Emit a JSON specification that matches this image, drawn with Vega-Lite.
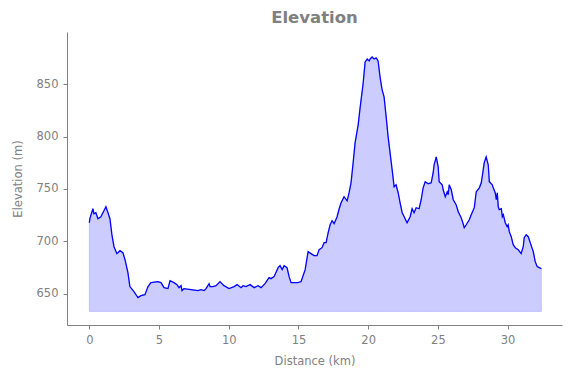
{
  "$schema": "https://vega.github.io/schema/vega-lite/v6.json",
  "autosize": "none",
  "width": 495,
  "height": 293,
  "padding": {"left": 67, "top": 32, "right": 9, "bottom": 53},
  "background": "white",
  "title": {"text": "Elevation", "fontSize": 16.5, "fontWeight": "bold", "color": "#808080", "font": "DejaVu Sans", "offset": 6, "anchor": "middle"},
  "config": {
    "view": {"stroke": null},
    "axis": {"grid": false, "domainColor": "#808080", "tickColor": "#808080", "labelColor": "#808080", "titleColor": "#808080", "labelFont": "DejaVu Sans", "titleFont": "DejaVu Sans", "labelFontSize": 11.5, "titleFontSize": 11.5, "titleFontWeight": "normal", "tickSize": 4, "labelPadding": 5}
  },
  "data": {"values": [
    {"km": 0.00, "ele": 717.7}, {"km": 0.04, "ele": 721.6}, {"km": 0.26, "ele": 731.1}, {"km": 0.33, "ele": 726.3},
    {"km": 0.47, "ele": 727.3}, {"km": 0.62, "ele": 721.6}, {"km": 0.83, "ele": 723.5}, {"km": 1.05, "ele": 729.2},
    {"km": 1.19, "ele": 733.0}, {"km": 1.34, "ele": 727.3}, {"km": 1.48, "ele": 721.6}, {"km": 1.62, "ele": 706.3},
    {"km": 1.77, "ele": 694.8}, {"km": 1.98, "ele": 688.2}, {"km": 2.20, "ele": 691.0}, {"km": 2.41, "ele": 689.1},
    {"km": 2.56, "ele": 682.4}, {"km": 2.77, "ele": 670.0}, {"km": 2.91, "ele": 656.7}, {"km": 3.20, "ele": 651.9},
    {"km": 3.49, "ele": 646.2}, {"km": 3.70, "ele": 648.1}, {"km": 3.99, "ele": 649.0}, {"km": 4.21, "ele": 656.7},
    {"km": 4.42, "ele": 660.5}, {"km": 4.92, "ele": 661.5}, {"km": 5.14, "ele": 660.5}, {"km": 5.36, "ele": 655.7},
    {"km": 5.64, "ele": 654.8}, {"km": 5.79, "ele": 662.4}, {"km": 6.07, "ele": 660.5}, {"km": 6.29, "ele": 658.6},
    {"km": 6.43, "ele": 655.7}, {"km": 6.58, "ele": 657.6}, {"km": 6.65, "ele": 652.9}, {"km": 6.79, "ele": 654.8},
    {"km": 7.29, "ele": 653.8}, {"km": 7.79, "ele": 652.9}, {"km": 8.01, "ele": 653.8}, {"km": 8.23, "ele": 652.9},
    {"km": 8.37, "ele": 654.8}, {"km": 8.59, "ele": 659.5}, {"km": 8.66, "ele": 656.7}, {"km": 8.87, "ele": 656.7},
    {"km": 9.09, "ele": 657.6}, {"km": 9.37, "ele": 661.5}, {"km": 9.66, "ele": 657.6}, {"km": 10.02, "ele": 654.8},
    {"km": 10.38, "ele": 656.7}, {"km": 10.60, "ele": 658.6}, {"km": 10.88, "ele": 655.7}, {"km": 11.03, "ele": 657.6},
    {"km": 11.24, "ele": 656.7}, {"km": 11.53, "ele": 658.6}, {"km": 11.82, "ele": 655.7}, {"km": 12.10, "ele": 657.6},
    {"km": 12.32, "ele": 655.7}, {"km": 12.60, "ele": 659.5}, {"km": 12.89, "ele": 665.3}, {"km": 13.03, "ele": 664.3},
    {"km": 13.25, "ele": 666.2}, {"km": 13.54, "ele": 674.8}, {"km": 13.68, "ele": 676.7}, {"km": 13.83, "ele": 672.9},
    {"km": 13.97, "ele": 676.7}, {"km": 14.18, "ele": 674.8}, {"km": 14.33, "ele": 666.2}, {"km": 14.47, "ele": 660.5},
    {"km": 14.97, "ele": 660.5}, {"km": 15.19, "ele": 661.5}, {"km": 15.48, "ele": 672.9}, {"km": 15.69, "ele": 690.1},
    {"km": 15.90, "ele": 688.2}, {"km": 16.12, "ele": 686.3}, {"km": 16.33, "ele": 686.3}, {"km": 16.48, "ele": 692.0},
    {"km": 16.69, "ele": 693.9}, {"km": 16.84, "ele": 698.7}, {"km": 16.98, "ele": 698.7}, {"km": 17.13, "ele": 708.2},
    {"km": 17.27, "ele": 715.8}, {"km": 17.41, "ele": 719.7}, {"km": 17.56, "ele": 716.8}, {"km": 17.77, "ele": 723.5},
    {"km": 17.92, "ele": 731.1}, {"km": 18.06, "ele": 736.8}, {"km": 18.27, "ele": 742.6}, {"km": 18.49, "ele": 738.7},
    {"km": 18.63, "ele": 746.4}, {"km": 18.77, "ele": 755.9}, {"km": 18.92, "ele": 775.0}, {"km": 19.06, "ele": 794.1},
    {"km": 19.28, "ele": 811.3}, {"km": 19.42, "ele": 827.5}, {"km": 19.64, "ele": 851.3}, {"km": 19.78, "ele": 871.4},
    {"km": 19.93, "ele": 874.2}, {"km": 20.07, "ele": 872.3}, {"km": 20.14, "ele": 874.2}, {"km": 20.28, "ele": 876.1},
    {"km": 20.42, "ele": 874.2}, {"km": 20.57, "ele": 875.2}, {"km": 20.71, "ele": 872.3}, {"km": 20.86, "ele": 856.1},
    {"km": 21.00, "ele": 844.7}, {"km": 21.14, "ele": 838.0}, {"km": 21.29, "ele": 818.9}, {"km": 21.43, "ele": 799.8},
    {"km": 21.57, "ele": 784.5}, {"km": 21.72, "ele": 768.3}, {"km": 21.86, "ele": 752.1}, {"km": 22.00, "ele": 754.0},
    {"km": 22.15, "ele": 746.4}, {"km": 22.29, "ele": 736.8}, {"km": 22.44, "ele": 727.3}, {"km": 22.58, "ele": 723.5},
    {"km": 22.79, "ele": 717.7}, {"km": 23.01, "ele": 723.5}, {"km": 23.15, "ele": 731.1}, {"km": 23.29, "ele": 727.3},
    {"km": 23.44, "ele": 732.1}, {"km": 23.65, "ele": 731.1}, {"km": 23.80, "ele": 739.7}, {"km": 23.94, "ele": 751.1},
    {"km": 24.09, "ele": 756.9}, {"km": 24.30, "ele": 755.0}, {"km": 24.52, "ele": 755.9}, {"km": 24.66, "ele": 765.5},
    {"km": 24.73, "ele": 773.1}, {"km": 24.88, "ele": 780.7}, {"km": 25.02, "ele": 771.2}, {"km": 25.09, "ele": 756.9},
    {"km": 25.31, "ele": 754.0}, {"km": 25.38, "ele": 749.2}, {"km": 25.53, "ele": 742.6}, {"km": 25.67, "ele": 747.3},
    {"km": 25.74, "ele": 744.5}, {"km": 25.81, "ele": 754.0}, {"km": 25.96, "ele": 749.2}, {"km": 26.10, "ele": 739.7},
    {"km": 26.31, "ele": 734.9}, {"km": 26.46, "ele": 728.2}, {"km": 26.67, "ele": 722.5}, {"km": 26.81, "ele": 716.8},
    {"km": 26.89, "ele": 713.0}, {"km": 27.03, "ele": 715.8}, {"km": 27.25, "ele": 720.6}, {"km": 27.39, "ele": 725.4},
    {"km": 27.61, "ele": 732.1}, {"km": 27.75, "ele": 747.3}, {"km": 27.97, "ele": 751.1}, {"km": 28.11, "ele": 755.9},
    {"km": 28.25, "ele": 768.3}, {"km": 28.32, "ele": 775.0}, {"km": 28.46, "ele": 780.7}, {"km": 28.61, "ele": 773.1},
    {"km": 28.69, "ele": 756.9}, {"km": 28.90, "ele": 754.0}, {"km": 28.97, "ele": 751.1}, {"km": 29.11, "ele": 746.4},
    {"km": 29.19, "ele": 739.7}, {"km": 29.26, "ele": 746.4}, {"km": 29.33, "ele": 733.0}, {"km": 29.40, "ele": 730.2},
    {"km": 29.55, "ele": 731.1}, {"km": 29.62, "ele": 723.5}, {"km": 29.69, "ele": 725.4}, {"km": 29.83, "ele": 717.7},
    {"km": 29.97, "ele": 713.9}, {"km": 30.04, "ele": 715.8}, {"km": 30.12, "ele": 709.2}, {"km": 30.26, "ele": 704.4},
    {"km": 30.40, "ele": 696.8}, {"km": 30.55, "ele": 693.9}, {"km": 30.76, "ele": 692.0}, {"km": 30.97, "ele": 688.2},
    {"km": 31.12, "ele": 694.8}, {"km": 31.19, "ele": 703.4}, {"km": 31.33, "ele": 706.3}, {"km": 31.48, "ele": 704.4},
    {"km": 31.62, "ele": 698.7}, {"km": 31.84, "ele": 690.1}, {"km": 31.98, "ele": 680.5}, {"km": 32.12, "ele": 675.8},
    {"km": 32.27, "ele": 674.8}, {"km": 32.42, "ele": 673.9}
  ]},
  "encoding": {
    "x": {"field": "km", "type": "quantitative", "scale": {"domain": [-1.6, 33.9], "nice": false, "zero": false},
          "axis": {"values": [0, 5, 10, 15, 20, 25, 30], "title": "Distance (km)", "titlePadding": 10}},
    "y": {"field": "ele", "type": "quantitative", "scale": {"domain": [620, 900], "nice": false, "zero": false},
          "axis": {"values": [650, 700, 750, 800, 850], "title": "Elevation (m)", "titlePadding": 13}}
  },
  "layer": [
    {"mark": {"type": "area", "fill": "#0000ff", "fillOpacity": 0.2, "stroke": "#0000ff", "strokeOpacity": 0.15, "strokeWidth": 1},
     "encoding": {"y2": {"datum": 633}}},
    {"mark": {"type": "line", "color": "#0000ff", "strokeWidth": 1.3}}
  ]
}
